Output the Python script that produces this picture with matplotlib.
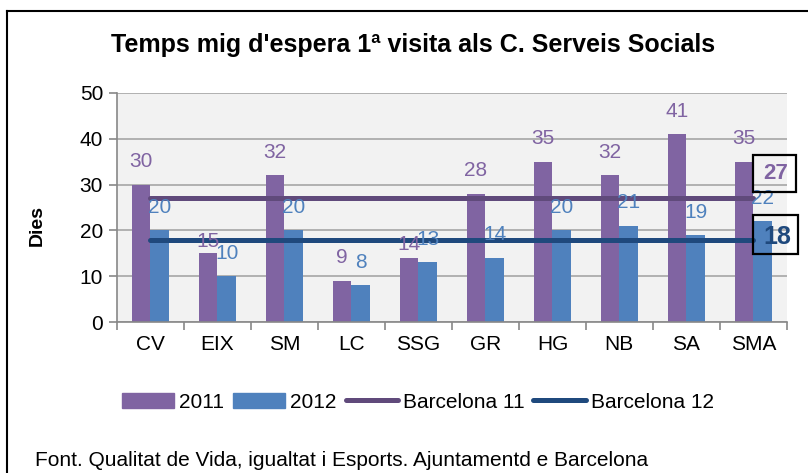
import numpy as np
import matplotlib.pyplot as plt
from matplotlib.lines import Line2D
from matplotlib.patches import Patch, Rectangle

plt.rcParams['font.family'] = ['Liberation Sans', 'DejaVu Sans']

#-------------------------------------------------------------------------------
# DATA
districtes = ["CV", "EIX", "SM", "LC", "SSG", "GR", "HG", "NB", "SA", "SMA"]
v2011 = [30, 15, 32, 9, 14, 28, 35, 32, 41, 35]
v2012 = [20, 10, 20, 8, 13, 14, 20, 21, 19, 22]
bcn11 = 27
bcn12 = 18
#-------------------------------------------------------------------------------

c11 = "#8064A2"
c12 = "#4F81BD"
cl11 = "#604A7B"
cl12 = "#1F497D"

fig = plt.figure(figsize=(8.08, 4.73), dpi=100)
ax = fig.add_axes([0.1448, 0.3192, 0.829, 0.4842])
ax.set_facecolor("#F2F2F2")

x = np.arange(len(districtes))
w = 0.28
ax.bar(x - w/2, v2011, w, color=c11, zorder=2)
ax.bar(x + w/2, v2012, w, color=c12, zorder=2)

# excel moved a couple of labels down to dodge the neighbours
shift11 = {1: -8, 4: -7}
for i, (xi, v) in enumerate(zip(x - w/2, v2011)):
    ax.annotate(str(v), (xi, v), xytext=(0, 16.5 + shift11.get(i, 0)),
                textcoords="offset points", ha="center", va="center",
                color=c11, fontsize=15, zorder=4)
for xi, v in zip(x + w/2, v2012):
    ax.annotate(str(v), (xi, v), xytext=(0, 16.5), textcoords="offset points",
                ha="center", va="center", color=c12, fontsize=15, zorder=4)

ax.plot(x, [bcn11] * len(x), color=cl11, lw=3.6, solid_capstyle="round", zorder=3)
ax.plot(x, [bcn12] * len(x), color=cl12, lw=3.6, solid_capstyle="round", zorder=3)

# boxed reference values at the right
ax.add_patch(Rectangle((8.99, 28.4), 0.64, 8.1, fill=False, ec="black", lw=1.6,
                       clip_on=False, zorder=5))
ax.add_patch(Rectangle((8.99, 14.8), 0.67, 8.6, fill=False, ec="black", lw=1.6,
                       clip_on=False, zorder=5))
ax.text(9.34, 32.4, str(bcn11), color=c11, fontsize=16, fontweight="bold",
        ha="center", va="center", zorder=6, clip_on=False)
ax.text(9.36, 18.6, str(bcn12), color=cl12, fontsize=18, fontweight="bold",
        ha="center", va="center", zorder=6, clip_on=False)

ax.set_xlim(-0.5, 9.5)
ax.set_ylim(0, 50)
ax.set_yticks(range(0, 51, 10))
ax.yaxis.grid(True, color="#A6A6A6", lw=1.2, zorder=0)
ax.set_axisbelow(True)
ax.set_xticks(x)
ax.set_xticklabels(districtes, fontsize=15)
ax.set_xticks(np.arange(-0.5, 10, 1), minor=True)
ax.tick_params(axis="x", which="major", length=0, pad=9)
ax.tick_params(axis="x", which="minor", length=6, color="#888888", width=1.2)
ax.tick_params(axis="y", length=6, color="#888888", width=1.2, labelsize=15, pad=4)
for s in ["top", "right"]:
    ax.spines[s].set_visible(False)
for s in ["left", "bottom"]:
    ax.spines[s].set_color("#888888")
    ax.spines[s].set_linewidth(1.2)
ax.set_ylabel("Dies", fontsize=14, fontweight="bold")
ax.yaxis.set_label_coords(-0.107, 0.42)

fig.text(0.511, 0.904, "Temps mig d'espera 1ª visita als C. Serveis Socials",
         ha="center", va="center", fontsize=18, fontweight="bold")

handles = [Patch(color=c11), Patch(color=c12),
           Line2D([], [], color=cl11, lw=3.6, solid_capstyle="round"),
           Line2D([], [], color=cl12, lw=3.6, solid_capstyle="round")]
fig.legend(handles, ["2011", "2012", "Barcelona 11", "Barcelona 12"],
           loc="center", bbox_to_anchor=(0.517, 0.150), ncol=4, frameon=False,
           fontsize=15, handlelength=2.5, handletextpad=0.25, columnspacing=0.43,
           borderpad=0, borderaxespad=0)

fig.text(0.043, 0.027, "Font. Qualitat de Vida, igualtat i Esports. Ajuntamentd e Barcelona",
         ha="left", va="center", fontsize=15)

fig.add_artist(Line2D([7/808, 1], [1 - 11/473] * 2, color="black", lw=1.5))
fig.add_artist(Line2D([7/808] * 2, [0, 1 - 11/473], color="black", lw=1.5))

fig.savefig("out.png", dpi=100)
